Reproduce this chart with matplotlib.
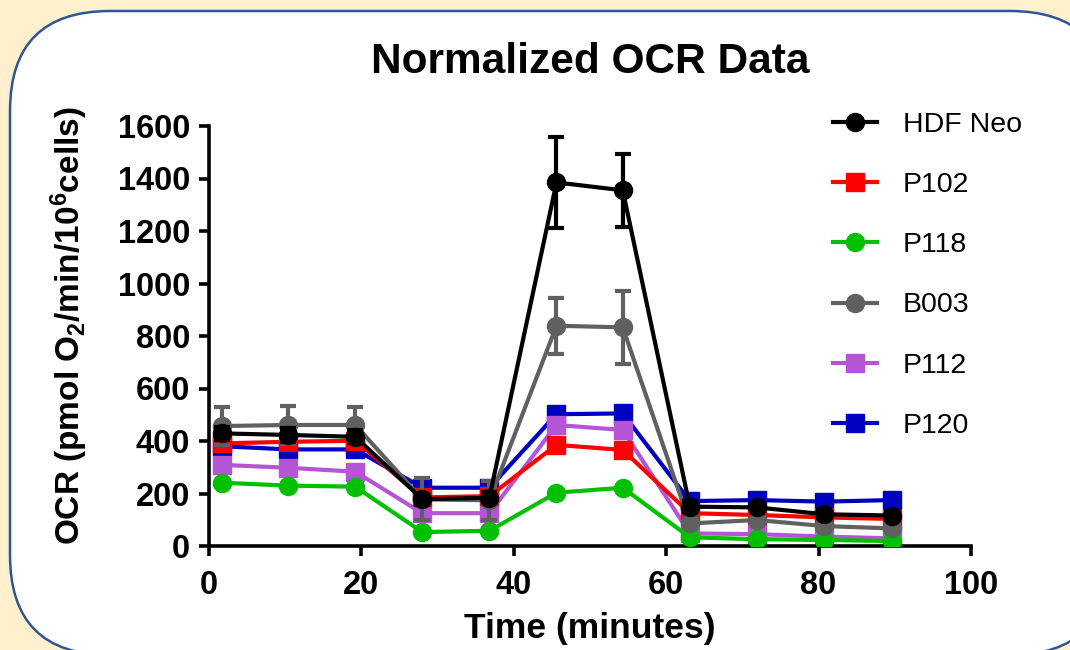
import matplotlib
matplotlib.use('Agg')
import matplotlib.pyplot as plt
from matplotlib.patches import FancyBboxPatch
from matplotlib.lines import Line2D

plt.rcParams['font.family'] = ['Liberation Sans', 'DejaVu Sans']
plt.rcParams['mathtext.fontset'] = 'custom'
plt.rcParams['mathtext.bf'] = 'Liberation Sans:bold'
plt.rcParams['mathtext.rm'] = 'Liberation Sans:bold'
plt.rcParams['mathtext.default'] = 'bf'

# time points (minutes)
time = [1.7, 10.4, 19.2, 28.0, 36.8, 45.6, 54.3, 63.1, 71.9, 80.7, 89.6]

hdf_neo = [429, 423, 416, 178, 184, 1385, 1355, 150, 147, 121, 116]
hdf_err = [25, 25, 25, 20, 20, 172, 138, 20, 20, 15, 15]
p102 = [391, 397, 401, 185, 190, 385, 366, 125, 118, 109, 103]
p118 = [241, 230, 226, 53, 58, 203, 222, 33, 26, 23, 19]
b003 = [457, 461, 461, 178, 174, 839, 833, 86, 99, 76, 67]
b003_err = [72, 72, 70, 80, 75, 106, 140, 15, 15, 15, 15]
p112 = [309, 298, 283, 125, 125, 461, 442, 48, 45, 36, 29]
p120 = [380, 368, 368, 222, 222, 502, 505, 171, 175, 169, 175]
p120_err = [10, 10, 10, 10, 10, 25, 25, 10, 10, 10, 10]

names = ['HDF Neo', 'P102', 'P118', 'B003', 'P112', 'P120']
colors = ['black', '#FF0000', '#00C000', '#606060', '#B455D6', '#0000C0']
markers = ['o', 's', 'o', 'o', 's', 's']

fig = plt.figure(figsize=(10.7, 6.5), dpi=100)
fig.patch.set_facecolor('#FEF0CD')

# rounded white panel behind the chart
panel = FancyBboxPatch((10, -5), 1100, 644, boxstyle='round,pad=0,rounding_size=100',
                       transform=None, facecolor='white', edgecolor='#2F5597',
                       linewidth=1.8, zorder=-1)
fig.add_artist(panel)

ax = fig.add_axes([209 / 1070, 104 / 650, 762 / 1070, 420 / 650])
ax.set_facecolor('none')

lw = 3
ms = 13
cap = dict(capsize=6, capthick=3, elinewidth=3)

ax.errorbar(time, p120, yerr=p120_err, color=colors[5], marker='s', lw=lw, ms=ms, zorder=1, **cap)
ax.errorbar(time, p112, color=colors[4], marker='s', lw=lw, ms=ms, zorder=2)
ax.errorbar(time, p102, color=colors[1], marker='s', lw=lw, ms=ms, zorder=3)
ax.errorbar(time, p118, color=colors[2], marker='o', lw=lw, ms=ms, zorder=4)
ax.errorbar(time, b003, yerr=b003_err, color=colors[3], marker='o', lw=lw, ms=ms, zorder=5, **cap)
ax.errorbar(time, hdf_neo, yerr=hdf_err, color=colors[0], marker='o', lw=lw, ms=ms, zorder=6, **cap)

ax.set_xlim(0, 100)
ax.set_ylim(0, 1600)
ax.set_xticks(range(0, 101, 20))
ax.set_yticks(range(0, 1601, 200))

for s in ['top', 'right']:
    ax.spines[s].set_visible(False)
for s in ['left', 'bottom']:
    ax.spines[s].set_linewidth(2.6)
ax.tick_params(direction='out', length=7, width=2.6, labelsize=23.5)
ax.tick_params(axis='y', pad=6.5)
ax.tick_params(axis='x', pad=10)
for lab in ax.get_xticklabels() + ax.get_yticklabels():
    lab.set_fontweight('bold')

ax.set_xlabel('Time (minutes)', fontsize=25.5, fontweight='bold', labelpad=8)
ax.set_ylabel('OCR (pmol O$_2$/min/10$^6$cells)', fontsize=24, fontweight='bold')
ax.yaxis.set_label_coords(-0.156, 0.524)
fig.text(590 / 1070, 1 - 62 / 650, 'Normalized OCR Data', fontsize=30.5, fontweight='bold',
         ha='center', va='center')

handles = [Line2D([], [], color=c, marker=m, lw=lw, ms=ms) for c, m in zip(colors, markers)]
ax.legend(handles, names, loc='upper left', bbox_to_anchor=(833 / 1070, 1 - 112 / 650),
          bbox_transform=fig.transFigure, frameon=False, fontsize=20.5,
          handlelength=1.55, handletextpad=0.9, labelspacing=1.2,
          borderpad=0, borderaxespad=0)

fig.savefig('out.png', dpi=100)
